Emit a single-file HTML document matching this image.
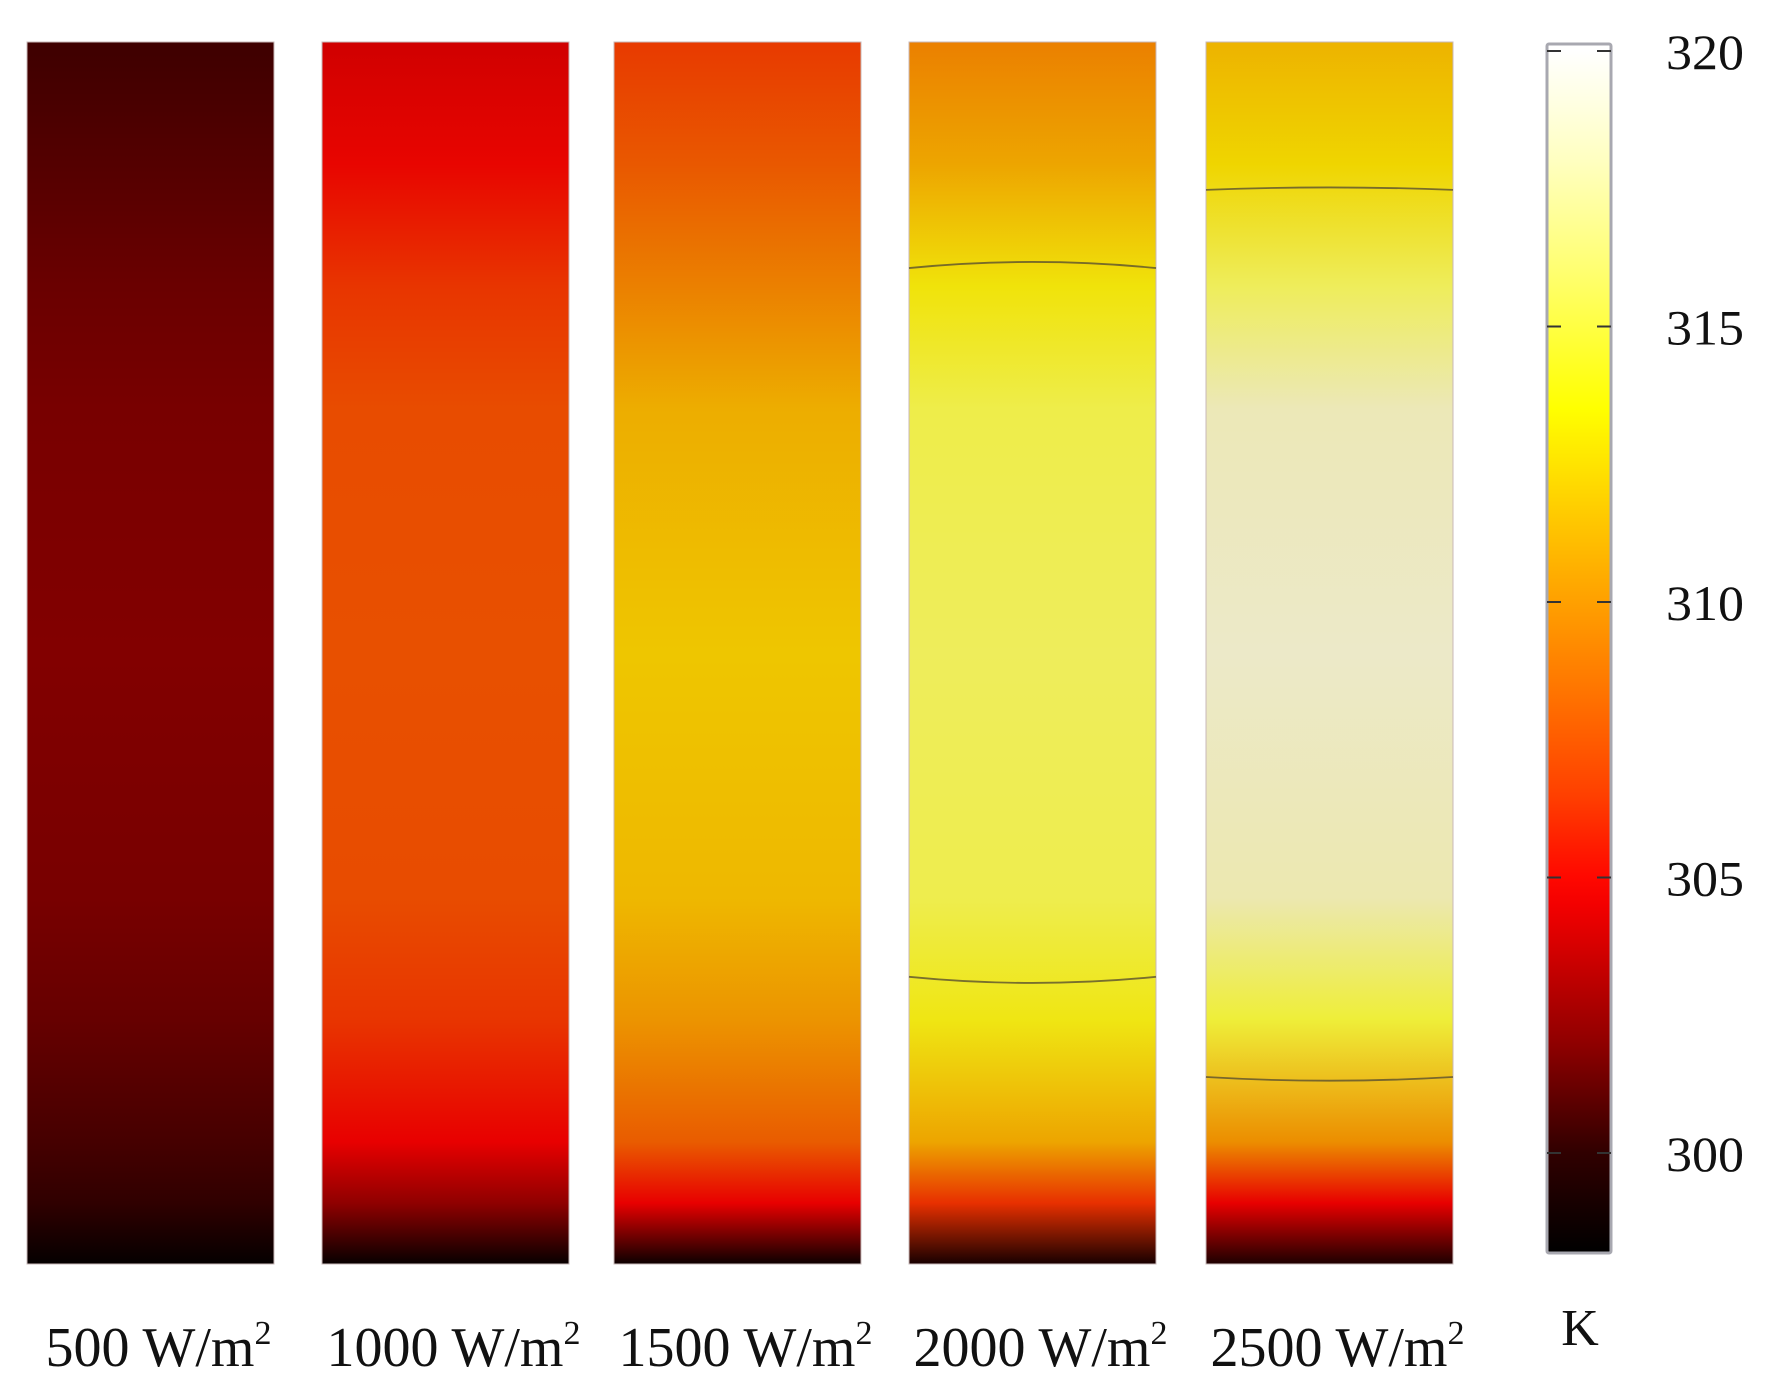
<!DOCTYPE html>
<html><head><meta charset="utf-8">
<style>
html,body{margin:0;padding:0;background:#fff;}
svg{display:block;font-family:"Liberation Serif",serif;}
</style></head>
<body>
<svg id="chart" width="1777" height="1381" viewBox="0 0 1777 1381">
<defs id="defs"></defs>
<g id="panels"></g>
<g id="cbar"></g>
</svg>
<script>
const labels = ["500", "1000", "1500", "2000", "2500"];
const fracs = [0, 0.1, 0.2, 0.3, 0.5, 0.7, 0.8, 0.9, 0.95, 1];
const tP1 = [300.4, 301, 301.6, 302, 302.2, 302, 301.5, 300.6, 300, 298.2];
const tP2 = [303.9, 304.6, 305.6, 306.2, 306.4, 306.2, 305.6, 304.5, 302.5, 298.3];
const tP3 = [305.7, 306.8, 308.8, 310.8, 311.8, 311.2, 309.8, 307, 304.5, 298.5];
const tP4 = [308.8, 310.5, 313.2, 314.6, 315, 314.7, 313.4, 310.5, 305.5, 299];
const tP5 = [311, 312.5, 315, 317.3, 318, 317, 314.2, 309.5, 304.5, 299.2];
const profiles = [tP1, tP2, tP3, tP4, tP5];
// contour lines: [panel index, edge fraction, center fraction]
const contours = [[3, 0.185, 0.180], [3, 0.765, 0.770], [4, 0.121, 0.119], [4, 0.847, 0.850]];
const cbTicks = [300, 305, 310, 315, 320];
const pmapT = [298, 300, 302, 303.5, 304.5, 306, 308, 310, 311.5, 313, 314, 315.5, 317, 318];
const pmapC = ["#000000","#300000","#780000","#c00000","#e80000","#e84800","#ea7000","#ec9800","#eec000","#f0e000","#eeee30","#eeec70","#ece8b0","#ece9c8"];
const cmapT = [298.2, 300, 302, 304, 304.8, 306.5, 308.5, 310, 311.5, 313.5, 316, 318, 320];
const cmapC = ["#000000","#300000","#900000","#e00000","#ff0000","#ff4000","#ff7800","#ffa000","#ffc800","#ffff00","#ffff70","#ffffc0","#ffffff"];

const NS = "http://www.w3.org/2000/svg";
function mk(tag, attrs, parent){const e=document.createElementNS(NS,tag);for(const k in attrs)e.setAttribute(k,attrs[k]);parent.appendChild(e);return e;}
function hex(c){return [1,3,5].map(i=>parseInt(c.substr(i,2),16));}
function lookup(T,C,t){
  if(t<=T[0])return C[0];
  for(let i=1;i<T.length;i++){
    if(t<=T[i]){const f=(t-T[i-1])/(T[i]-T[i-1]);const a=hex(C[i-1]),b=hex(C[i]);
      return "rgb("+a.map((v,j)=>Math.round(v+(b[j]-v)*f)).join(",")+")";}
  }
  return C[C.length-1];
}
const pTop=42, pBot=1264, pH=pBot-pTop;
const panelX=[27,322,614,909,1206], W=247;
function yS(f){return pTop+f*pH;}
const defs=document.getElementById('defs');
const gp=document.getElementById('panels');
profiles.forEach((prof,i)=>{
  const gr=mk('linearGradient',{id:'g'+i,x1:0,y1:0,x2:0,y2:1},defs);
  prof.forEach((t,k)=>mk('stop',{offset:fracs[k],'stop-color':lookup(pmapT,pmapC,t)},gr));
  const r=mk('rect',{x:panelX[i],y:pTop,width:W,height:pH,fill:'url(#g'+i+')',stroke:'#c8b8b8','stroke-width':1},gp);
  
  
  const tx=mk('text',{x:panelX[i]+W/2+8,y:1366,'font-size':56,'text-anchor':'middle',fill:'#111'},gp);
  tx.textContent=labels[i]+" W/m";
  const sup=mk('tspan',{'font-size':34,dy:-22},tx);sup.textContent="2";
  
  
});
contours.forEach((c)=>{
  const x0=panelX[c[0]],x1=x0+W,ye=yS(c[1]),yc=yS(c[2]);
  const cy=2*yc-ye;
  const p=mk('path',{d:`M${x0},${ye} Q${x0+W/2},${cy} ${x1},${ye}`,fill:'none',stroke:'#5a5030','stroke-width':1.8,opacity:0.8},gp);
  
  
});
const cb=document.getElementById('cbar');
const cbx=1547,cbw=64,cbTop=44,cbBot=1253;
function yT(t){return 51+(320-t)*(1153-51)/20;}
const cg=mk('linearGradient',{id:'cbg',x1:0,y1:0,x2:0,y2:1},defs);
for(let t=320;t>=297;t-=0.5){const off=(yT(t)-cbTop)/(cbBot-cbTop);if(off>=0&&off<=1)mk('stop',{offset:off,'stop-color':lookup(cmapT,cmapC,t)},cg);}
mk('stop',{offset:1,'stop-color':'#000'},cg);
const cr=mk('rect',{x:cbx,y:cbTop,width:cbw,height:cbBot-cbTop,fill:'url(#cbg)',stroke:'#a8a8b0','stroke-width':3,rx:2},cb);


cbTicks.forEach(t=>{
  const y=yT(t);
  const l1=mk('line',{x1:cbx,x2:cbx+14,y1:y,y2:y,stroke:'#333','stroke-width':2},cb);
  
  
  const l2=mk('line',{x1:cbx+cbw-14,x2:cbx+cbw,y1:y,y2:y,stroke:'#333','stroke-width':2},cb);
  
  
  const tx=mk('text',{x:1666,y:y+18,'font-size':50,fill:'#111',textLength:78,lengthAdjust:'spacingAndGlyphs'},cb);
  tx.textContent=t;
  
  
});
const k=mk('text',{x:1580,y:1345,'font-size':52,'text-anchor':'middle',fill:'#111'},cb);
k.textContent="K";


</script>
</body></html>
